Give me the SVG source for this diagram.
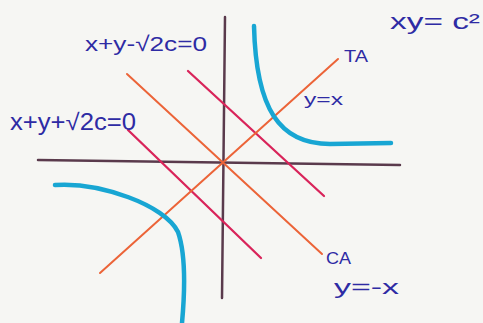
<svg xmlns="http://www.w3.org/2000/svg" width="483" height="323" viewBox="0 0 483 323">
  <style>
    .ink { font-family: "Liberation Sans", "DejaVu Sans", sans-serif; fill: #2e2ba4; }
    .axis { stroke: #5a3a4c; stroke-width: 2.5; stroke-linecap: round; fill: none; }
    .asym { stroke: #ec6438; stroke-width: 2; stroke-linecap: round; fill: none; }
    .tan { stroke: #d9245a; stroke-width: 2.3; stroke-linecap: round; fill: none; }
    .hyp { stroke: #18a6d3; stroke-width: 4.5; stroke-linecap: round; fill: none; }
  </style>
  <rect width="483" height="323" fill="#f6f6f3"/>
  <g id="axes">
    <line class="axis" x1="38" y1="160" x2="400" y2="165"/>
    <line class="axis" x1="225" y1="17" x2="222" y2="298"/>
  </g>
  <g id="tangents">
    <line class="tan" x1="188" y1="71" x2="324" y2="196"/>
    <line class="tan" x1="128" y1="130" x2="261" y2="258"/>
  </g>
  <g id="asymptotes">
    <line class="asym" x1="100" y1="273" x2="338" y2="59"/>
    <line class="asym" x1="127" y1="74" x2="322" y2="254"/>
  </g>
  <g id="hyperbola">
    <path class="hyp" d="M254,26 C256,110 280,144 330,144 L391,143"/>
    <path class="hyp" d="M55,185 C100,182 165,205 178,232 C186,255 185,290 182,323"/>
  </g>
  <g id="labels">
    <text class="ink" x="85" y="51" font-size="21" textLength="122" lengthAdjust="spacingAndGlyphs">x+y-√2c=0</text>
    <text class="ink" x="10" y="130" font-size="23" textLength="126" lengthAdjust="spacingAndGlyphs">x+y+√2c=0</text>
    <text class="ink" x="390" y="29" font-size="22" textLength="90" lengthAdjust="spacingAndGlyphs">xy= c²</text>
    <text class="ink" x="344" y="62" font-size="16" textLength="24" lengthAdjust="spacingAndGlyphs">TA</text>
    <text class="ink" x="304" y="105" font-size="16" textLength="39" lengthAdjust="spacingAndGlyphs">y=x</text>
    <text class="ink" x="326" y="264" font-size="17" textLength="25" lengthAdjust="spacingAndGlyphs">CA</text>
    <text class="ink" x="334" y="294" font-size="21" textLength="65" lengthAdjust="spacingAndGlyphs">y=-x</text>
  </g>
</svg>
